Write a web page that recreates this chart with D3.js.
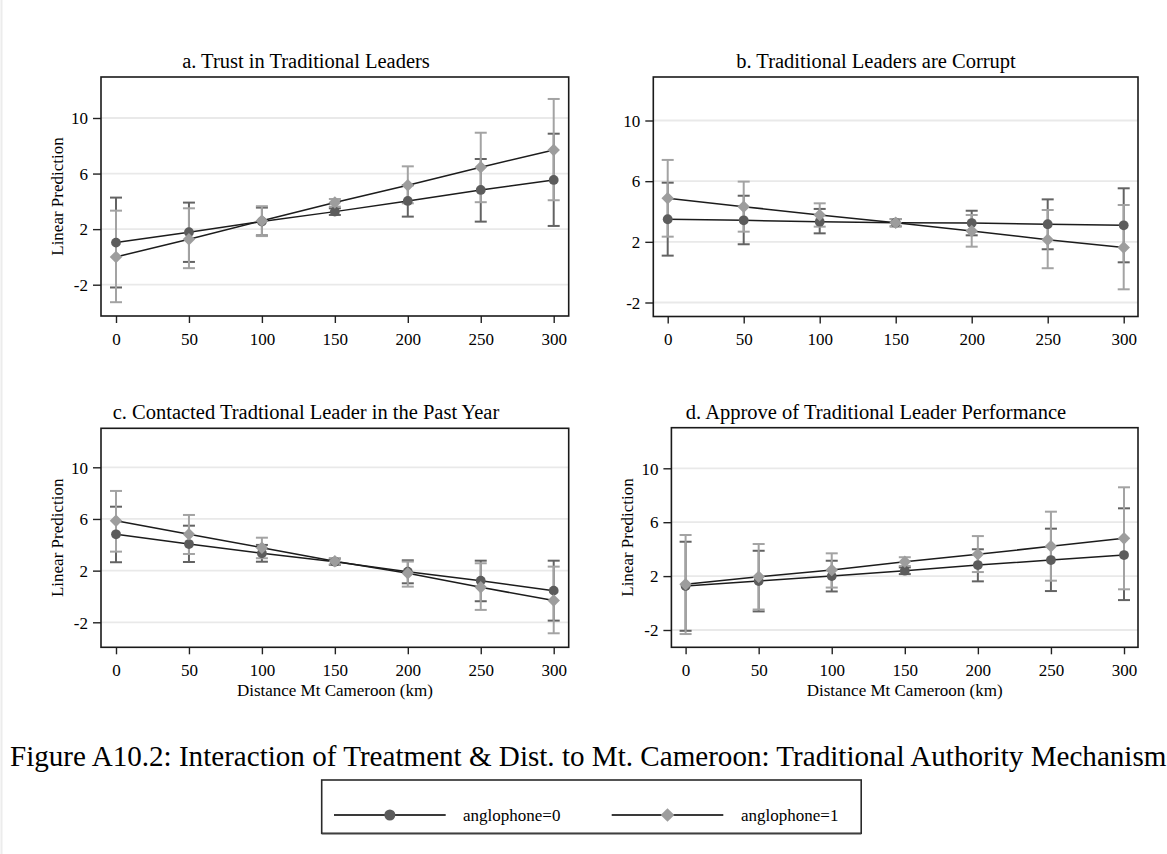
<!DOCTYPE html>
<meta charset="utf-8">
<head>
	<style>
		body { margin: 0; background: #fff; }
		text { font-family: "Liberation Serif", "Times New Roman", serif; fill: #000; }
	</style>
	<script src="https://cdn.jsdelivr.net/npm/d3@7"></script>
</head>
<body>
<script>

	var width = 1167, height = 854;

	var distances = [0, 50, 100, 150, 200, 250, 300];
	var yTickValues = [-2, 2, 6, 10];
	var groupNames = ["anglophone=0", "anglophone=1"];
	var panelTitles = [
		"a. Trust in Traditional Leaders",
		"b. Traditional Leaders are Corrupt",
		"c. Contacted Tradtional Leader in the Past Year",
		"d. Approve of Traditional Leader Performance"
	];
	var yLabel = "Linear Prediction";
	var xLabel = "Distance Mt Cameroon (km)";
	var caption = "Figure A10.2: Interaction of Treatment & Dist. to Mt. Cameroon: Traditional Authority Mechanism";

	// a. trust
	var aEst0 = [1.03, 1.78, 2.55, 3.26, 4.03, 4.82, 5.54];
	var aLo0  = [-2.20, -0.36, 1.55, 3.02, 2.90, 2.54, 2.23];
	var aHi0  = [4.27, 3.91, 3.55, 3.50, 5.16, 7.05, 8.87];
	var aEst1 = [0.00, 1.27, 2.60, 3.91, 5.16, 6.45, 7.70];
	var aLo1  = [-3.26, -0.81, 1.50, 3.62, 3.86, 3.94, 4.08];
	var aHi1  = [3.33, 3.50, 3.65, 4.17, 6.52, 8.94, 11.37];

	// b. corrupt
	var bEst0 = [3.49, 3.42, 3.33, 3.26, 3.24, 3.16, 3.09];
	var bLo0  = [1.09, 1.84, 2.56, 3.02, 2.43, 1.51, 0.65];
	var bHi0  = [5.90, 5.04, 4.17, 3.50, 4.05, 4.80, 5.53];
	var bEst1 = [4.87, 4.32, 3.77, 3.26, 2.72, 2.14, 1.62];
	var bLo1  = [2.34, 2.67, 3.00, 3.02, 1.68, 0.26, -1.13];
	var bHi1  = [7.40, 5.97, 4.54, 3.50, 3.77, 4.10, 4.43];

	// c. contacted
	var cEst0 = [4.81, 4.06, 3.34, 2.69, 1.92, 1.22, 0.45];
	var cLo0  = [2.65, 2.67, 2.69, 2.45, 1.02, -0.37, -1.87];
	var cHi0  = [6.95, 5.48, 3.99, 2.93, 2.80, 2.77, 2.77];
	var cEst1 = [5.87, 4.81, 3.78, 2.72, 1.80, 0.71, -0.32];
	var cLo1  = [3.47, 3.29, 2.96, 2.48, 0.76, -1.04, -2.85];
	var cHi1  = [8.17, 6.31, 4.55, 2.96, 2.70, 2.57, 2.31];

	// d. approve
	var dEst0 = [1.26, 1.63, 2.00, 2.40, 2.82, 3.19, 3.56];
	var dLo0  = [-2.06, -0.62, 0.86, 2.15, 1.61, 0.89, 0.22];
	var dHi0  = [4.55, 3.88, 3.14, 2.65, 3.99, 5.52, 7.03];
	var dEst1 = [1.39, 1.95, 2.45, 3.07, 3.62, 4.21, 4.80];
	var dLo1  = [-2.30, -0.48, 1.15, 2.75, 2.30, 1.66, 1.02];
	var dHi1  = [5.05, 4.38, 3.69, 3.40, 4.97, 6.78, 8.59];

	var seriesData = [
		[[aEst0, aLo0, aHi0], [aEst1, aLo1, aHi1]],
		[[bEst0, bLo0, bHi0], [bEst1, bLo1, bHi1]],
		[[cEst0, cLo0, cHi0], [cEst1, cLo1, cHi1]],
		[[dEst0, dLo0, dHi0], [dEst1, dLo1, dHi1]]
	];

	// pixel layout of each panel (tick positions and plot box)
	var layout = [
		{x0: 116, x300: 553.7, y10: 118, yM2: 284.7, left: 101, right: 568.7, top: 77, bottom: 316, titleX: 306, titleY: 68, yLab: 62.7, xLab: false},
		{x0: 667.7, x300: 1123.7, y10: 120.5, yM2: 302.5, left: 653.3, right: 1138, top: 77, bottom: 316.5, titleX: 876, titleY: 68, yLab: null, xLab: false},
		{x0: 116, x300: 553.7, y10: 467.3, yM2: 622.3, left: 101, right: 568.7, top: 428.3, bottom: 647.3, titleX: 306, titleY: 419, yLab: 63, xLab: true},
		{x0: 685.6, x300: 1124, y10: 468.3, yM2: 630, left: 671.4, right: 1138, top: 427.7, bottom: 647.3, titleX: 876, titleY: 419, yLab: 632.6, xLab: true}
	];

	var markerFill = ["#5c5c5c", "#9d9d9d"],
		ciColor = ["#636363", "#a3a3a3"];

	var svg = d3.select("body").append("svg")
		.attr("width", width)
		.attr("height", height);

	svg.append("rect")
		.attr("width", width).attr("height", height)
		.attr("fill", "#fff");
	svg.append("line")
		.attr("x1", 1.5).attr("x2", 1.5).attr("y1", 0).attr("y2", height)
		.attr("stroke", "#ececec").attr("stroke-width", 2);

	var diamond = d3.symbol().type(d3.symbolDiamond2).size(100);

	layout.forEach(function(p, k) {
		var x = d3.scaleLinear().domain([0, 300]).range([p.x0, p.x300]),
			y = d3.scaleLinear().domain([-2, 10]).range([p.yM2, p.y10]);

		var g = svg.append("g");

		// gridlines
		g.selectAll("line.grid")
			.data(yTickValues)
		  .enter().append("line")
			.attr("class", "grid")
			.attr("x1", p.left).attr("x2", p.right)
			.attr("y1", function(d) { return y(d) })
			.attr("y2", function(d) { return y(d) })
			.attr("stroke", "#e9e9e9")
			.attr("stroke-width", 1.8);

		// axes
		var yAxis = g.append("g")
			.attr("transform", "translate(" + p.left + ",0)")
			.call(d3.axisLeft(y).tickValues(yTickValues).tickSize(8).tickPadding(5)
				.tickFormat(function(d) { return String(d) }));
		var xAxis = g.append("g")
			.attr("transform", "translate(0," + p.bottom + ")")
			.call(d3.axisBottom(x).tickValues(distances).tickSize(7).tickPadding(9.5));

		[yAxis, xAxis].forEach(function(a) {
			a.select(".domain").remove();
			a.selectAll(".tick line").attr("stroke", "#222").attr("stroke-width", 1.4);
			a.selectAll(".tick text")
				.style("font-family", "Liberation Serif")
				.style("font-size", "17px")
				.attr("fill", "#000");
		});
		yAxis.selectAll(".tick text").attr("dy", "0.34em");

		// plot box
		g.append("rect")
			.attr("x", p.left).attr("y", p.top)
			.attr("width", p.right - p.left).attr("height", p.bottom - p.top)
			.attr("fill", "none")
			.attr("stroke", "#1a1a1a")
			.attr("stroke-width", 1.6);

		// titles
		g.append("text")
			.attr("x", p.titleX).attr("y", p.titleY)
			.attr("text-anchor", "middle")
			.style("font-size", "20.5px")
			.text(panelTitles[k]);

		if (p.yLab != null) {
			g.append("text")
				.attr("transform", "translate(" + p.yLab + "," + (p.top + p.bottom) / 2 + ")rotate(-90)")
				.attr("text-anchor", "middle")
				.style("font-size", "17px")
				.text(yLabel);
		}
		if (p.xLab) {
			g.append("text")
				.attr("x", (p.left + p.right) / 2).attr("y", 696)
				.attr("text-anchor", "middle")
				.style("font-size", "17px")
				.text(xLabel);
		}

		var series = seriesData[k];

		// confidence intervals
		series.forEach(function(s, j) {
			var ci = g.append("g")
				.attr("stroke", ciColor[j])
				.attr("stroke-width", 2)
				.selectAll("g")
				.data(distances)
			  .enter().append("g");

			ci.append("line")
				.attr("x1", function(d) { return x(d) })
				.attr("x2", function(d) { return x(d) })
				.attr("y1", function(d, i) { return y(s[1][i]) })
				.attr("y2", function(d, i) { return y(s[2][i]) });
			ci.append("line")
				.attr("x1", function(d) { return x(d) - 6 })
				.attr("x2", function(d) { return x(d) + 6 })
				.attr("y1", function(d, i) { return y(s[1][i]) })
				.attr("y2", function(d, i) { return y(s[1][i]) });
			ci.append("line")
				.attr("x1", function(d) { return x(d) - 6 })
				.attr("x2", function(d) { return x(d) + 6 })
				.attr("y1", function(d, i) { return y(s[2][i]) })
				.attr("y2", function(d, i) { return y(s[2][i]) });
		});

		// connected estimates
		series.forEach(function(s, j) {
			var line = d3.line()
				.x(function(d) { return x(d) })
				.y(function(d, i) { return y(s[0][i]) });

			g.append("path")
				.datum(distances)
				.attr("d", line)
				.attr("fill", "none")
				.attr("stroke", "#1c1c1c")
				.attr("stroke-width", 1.5);

			if (j == 0) {
				g.append("g").selectAll("circle")
					.data(distances)
				  .enter().append("circle")
					.attr("cx", function(d) { return x(d) })
					.attr("cy", function(d, i) { return y(s[0][i]) })
					.attr("r", 4.9)
					.attr("fill", markerFill[0]);
			} else {
				g.append("g").selectAll("path")
					.data(distances)
				  .enter().append("path")
					.attr("d", diamond)
					.attr("transform", function(d, i) { return "translate(" + x(d) + "," + y(s[0][i]) + ")" })
					.attr("fill", markerFill[1]);
			}
		});
	});

	// caption
	svg.append("text")
		.attr("x", 10).attr("y", 766)
		.style("font-size", "29.1px")
		.text(caption);

	// legend
	var legend = svg.append("g");
	legend.append("rect")
		.attr("x", 321.7).attr("y", 780)
		.attr("width", 539.5).attr("height", 53.3)
		.attr("fill", "#fff")
		.attr("stroke", "#2a2a2a")
		.attr("stroke-width", 1.6);
	legend.append("line")
		.attr("x1", 321.7).attr("x2", 861.2)
		.attr("y1", 834).attr("y2", 834)
		.attr("stroke", "#555").attr("stroke-width", 1.2);

	var legendItems = [{x1: 334, x2: 445.7, tx: 463}, {x1: 611.7, x2: 723.3, tx: 741}];
	var legendY = 815;

	legendItems.forEach(function(it, j) {
		legend.append("line")
			.attr("x1", it.x1).attr("x2", it.x2)
			.attr("y1", legendY).attr("y2", legendY)
			.attr("stroke", "#3a3a3a").attr("stroke-width", 2);
		if (j == 0) {
			legend.append("circle")
				.attr("cx", (it.x1 + it.x2) / 2).attr("cy", legendY)
				.attr("r", 5.5).attr("fill", markerFill[0]);
		} else {
			legend.append("path")
				.attr("d", d3.symbol().type(d3.symbolDiamond2).size(120))
				.attr("transform", "translate(" + (it.x1 + it.x2) / 2 + "," + legendY + ")")
				.attr("fill", markerFill[1]);
		}
		legend.append("text")
			.attr("x", it.tx).attr("y", legendY + 5.5)
			.style("font-size", "17px")
			.text(groupNames[j]);
	});

</script>
</body>
